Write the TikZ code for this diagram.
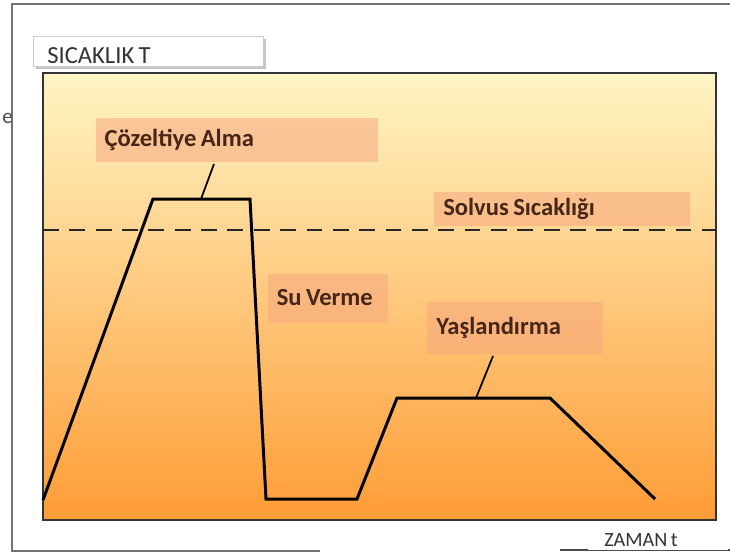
\documentclass[tikz,border=0pt]{standalone}
\usepackage{fontspec}
\setmainfont{Carlito}[WordSpace=0.8]
\usepackage{xcolor}
\usetikzlibrary{shadows}

\definecolor{bgtop}{RGB}{255,245,196}
\definecolor{bgmid}{RGB}{255,202,118}
\definecolor{bgbot}{RGB}{255,156,54}
\definecolor{labfill}{RGB}{246,168,128}
\definecolor{labtext}{RGB}{70,38,24}

\begin{document}
\begin{tikzpicture}[
    x=0.02cm, y=-0.02cm,
    font=\fontsize{12}{14}\selectfont,
    curve/.style={line width=1.7pt, line join=miter},
    lead/.style={line width=1pt},
    lab/.style={fill=labfill, fill opacity=0.55, text opacity=1, text=labtext,
      font=\fontsize{14}{16}\bfseries\selectfont, align=flush left, inner xsep=5pt},
    axlab/.style={fill=white, draw=black!20, text=black!80, inner sep=0pt,
      drop shadow={shadow xshift=1.5pt, shadow yshift=-1.5pt, opacity=0.45}},
  ]
  \useasboundingbox (0,0) rectangle (730,559);

  %% ---- outer frame ---------------------------------------------------
  \draw[black!55, line width=0.8pt] (730,4) -- (12,4) -- (12,551) -- (320,551);
  \draw[black!70, line width=1.2pt] (560,550) -- (730,550);
  \node[text=black!70, anchor=west, inner sep=0pt] (cut) at (2,118) {e};

  %% ---- plot area -----------------------------------------------------
  \shade[top color=bgtop, middle color=bgmid, bottom color=bgbot]
    (43,73) rectangle (716,520);
  \draw[black!80, line width=0.8pt] (43,73) rectangle (716,520);

  %% ---- axis labels ---------------------------------------------------
  \node[axlab, minimum width=4.6cm, minimum height=0.6cm, anchor=north west]
    (ylab) at (33,36) {};
  \node[anchor=west, inner sep=0pt, text=black!80, font=\fontsize{14}{16}\selectfont]
    at (47,56) {SICAKLIK T};
  \node[fill=white, minimum width=2.8cm, minimum height=0.58cm, anchor=north west,
    inner sep=0pt] (xlab) at (588,521) {};
  \node[text=black!80, font=\fontsize{11.5}{13}\selectfont, inner sep=0pt]
    at (641,540) {ZAMAN t};

  %% ---- solvus line ---------------------------------------------------
  \draw[dashed, dash pattern=on 9pt off 6pt, line width=1.2pt, black!85]
    (43,230) -- (716,230);

  %% ---- heat treatment cycle ------------------------------------------
  \coordinate (c0) at (43,500);
  \coordinate (c1) at (153,199);
  \coordinate (c2) at (250,199);
  \coordinate (c3) at (266,499);
  \coordinate (c4) at (357,499);
  \coordinate (c5) at (397,398);
  \coordinate (c6) at (550,398);
  \coordinate (c7) at (655,499);
  \draw[curve] (c0) -- (c1) -- (c2) -- (c3) -- (c4) -- (c5) -- (c6) -- (c7);

  %% ---- labels --------------------------------------------------------
  \node[lab, minimum width=5.66cm, minimum height=0.88cm, text width=5.3cm]
    (coz) at (237,140) {Çözeltiye Alma};
  \node[lab, minimum width=5.1cm, minimum height=0.64cm, text width=4.75cm]
    (solvus) at (562,209) {Solvus Sıcaklığı};
  \node[lab, minimum width=2.4cm, minimum height=0.98cm, text width=2.05cm]
    (su) at (328,298) {Su Verme};
  \node[lab, minimum width=3.5cm, minimum height=1.04cm, text width=3.15cm]
    (yas) at (515,328) {Yaşlandırma};

  \coordinate (cozend) at (214,164);
  \coordinate (cozpeak) at (201,199);
  \coordinate (yasend) at (493,356);
  \coordinate (yaspeak) at (476,398);
  \draw[lead] (cozend) -- (cozpeak);
  \draw[lead] (yasend) -- (yaspeak);
\end{tikzpicture}
\end{document}
